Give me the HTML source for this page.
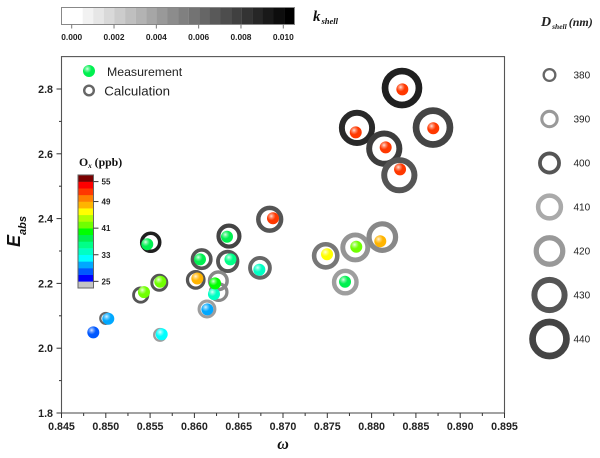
<!DOCTYPE html>
<html lang="en">
<head>
<meta charset="utf-8">
<title>Eabs versus omega</title>
<style>
html,body{margin:0;padding:0;background:#fff;}
svg{display:block;}
.sans{font-family:"Liberation Sans",Arial,sans-serif;}
.serif{font-family:"Liberation Serif","Times New Roman",serif;}
</style>
</head>
<body>
<svg id="chart" xmlns="http://www.w3.org/2000/svg" width="600" height="458" viewBox="0 0 600 458">
  <defs>
    <radialGradient id="sphere-shine" cx="0.36" cy="0.32" r="0.36">
      <stop offset="0" stop-color="#fff" stop-opacity="0.85"/>
      <stop offset="0.45" stop-color="#fff" stop-opacity="0.4"/>
      <stop offset="1" stop-color="#fff" stop-opacity="0"/>
    </radialGradient>
  </defs>
  <g id="k-bar"></g>
  <text class="serif" x="313" y="21" font-weight="bold" font-style="italic" font-size="15" fill="#111">k<tspan font-size="8.5" dx="1" dy="3">shell</tspan></text>
  <g id="axes"></g>
  <text class="sans" transform="translate(20,247) rotate(-90)" font-weight="bold" font-style="italic" font-size="18" fill="#111">E<tspan font-size="11" dy="6">abs</tspan></text>
  <text class="serif" x="283" y="449" text-anchor="middle" font-weight="bold" font-style="italic" font-size="16" fill="#111">ω</text>
  <g id="rings"></g>
  <g id="spheres"></g>
  <g>
    <circle cx="89" cy="71" r="6" fill="#00f050"/>
    <circle cx="89" cy="71" r="6" fill="url(#sphere-shine)"/>
    <text class="sans" x="107" y="76" font-size="12.3" fill="#222">Measurement</text>
    <circle cx="89" cy="90.5" r="4.8" fill="none" stroke="#666" stroke-width="2.4"/>
    <text class="sans" x="104.3" y="95.5" font-size="13.3" fill="#222">Calculation</text>
  </g>
  <text class="serif" x="79" y="166" font-weight="bold" font-size="11.8" fill="#111">O<tspan font-size="7" font-style="italic" dy="2">x</tspan><tspan dy="-2"> (ppb)</tspan></text>
  <g id="ox-bar"></g>
  <text class="serif" x="541" y="26" font-weight="bold" font-style="italic" font-size="14" fill="#222">D<tspan font-size="7.5" dx="1" dy="3">shell</tspan><tspan font-size="12" dx="2" dy="-3">(nm)</tspan></text>
  <g id="d-legend"></g>
</svg>
<script>
// Measurement series
const measOmega = [0.88347,0.88696,0.87821,0.88159,0.88321,0.86887,0.86368,0.86407,0.86733,0.87497,0.87827,0.88098,0.87700,0.85468,0.85615,0.85431,0.85028,0.84859,0.85631,0.86146,0.86221,0.86233,0.86033,0.86063];
const measEabs = [2.799,2.679,2.666,2.620,2.552,2.401,2.344,2.274,2.242,2.290,2.313,2.330,2.205,2.321,2.205,2.173,2.091,2.049,2.043,2.120,2.167,2.200,2.215,2.274];
const measOx = [52,52,52,52,52,52,38,36,34,46,42,48,38,38,41,42,30,27,32,30,34,40,48,38];
// Calculation series (the 18th measurement has no ring, so it is skipped)
const calcOmega = [0.88343,0.88693,0.87835,0.88143,0.88313,0.86850,0.86390,0.86376,0.86740,0.87482,0.87816,0.88121,0.87703,0.85507,0.85604,0.85394,0.84999,0.85612,0.86142,0.86274,0.86270,0.86015,0.86082];
const calcEabs = [2.803,2.681,2.680,2.616,2.534,2.398,2.346,2.268,2.248,2.285,2.311,2.343,2.204,2.327,2.202,2.164,2.092,2.041,2.121,2.173,2.208,2.211,2.275];
const calcD = [440,440,430,430,430,410,405,401,402,411,416,420,409,397,389,387,378,380,391,393,396,393,398];
const calcK = [0.0092,0.0077,0.0088,0.0080,0.0070,0.0070,0.0077,0.0070,0.0063,0.0056,0.0044,0.0049,0.0040,0.0092,0.0070,0.0070,0.0063,0.0040,0.0040,0.0049,0.0049,0.0070,0.0070];
// Axis ticks
const xTicks = [0.845,0.850,0.855,0.860,0.865,0.870,0.875,0.880,0.885,0.890,0.895];
const yTicks = [1.8,2.0,2.2,2.4,2.6,2.8];
const yMinorTicks = [1.9,2.1,2.3,2.5,2.7];
const kTicks = [0,0.002,0.004,0.006,0.008,0.010];
const oxTicks = [25,33,41,49,55];
// Ox colour scale: one colour per 2 ppb, from below 25 up to 57
const oxColors = ['#c4c4c4','#0000ff','#0058ff','#00a8ff','#00ffff','#00ffc4','#00ff88','#00f050','#00ff00','#70ff00','#b0ff00','#ffff00','#ffb400','#ff8000','#ff3800','#ff0000','#7a0000'];
// Shell-diameter legend
const legendD = [380,390,400,410,420,430,440];
const legendK = [0.0063,0.0042,0.0070,0.0035,0.0042,0.0070,0.0077];

const NS = 'http://www.w3.org/2000/svg';
const xScale = v => 61.5 + (v - 0.845) * 8860;
const yScale = v => 413 - (v - 1.8) * 324;
const kScale = v => 71.7 + v * 21160;
const oxScale = v => 288 - (v - 23) * 3.325;
const ringRadius = d => 7 + (d - 380) * 0.222;
const kGray = k => { const g = Math.round(255 * (1 - k / 0.0105)); return 'rgb(' + g + ',' + g + ',' + g + ')'; };
const oxColor = v => oxColors[Math.max(0, Math.min(oxColors.length - 1, Math.floor((v - 23) / 2)))];

function mk(parent, tag, attrs, text) {
  const el = document.createElementNS(NS, tag);
  for (const key in attrs) el.setAttribute(key, attrs[key]);
  if (text !== undefined) el.textContent = text;
  parent.appendChild(el);
  return el;
}

// Axes frame and ticks
const axes = document.getElementById('axes');
const frame = mk(axes, 'rect', {x: xScale(0.845), y: yScale(2.9), width: xScale(0.895) - xScale(0.845), height: yScale(1.8) - yScale(2.9), fill: 'none', stroke: '#555', 'stroke-width': 1.1});


xTicks.forEach((t, i) => {
  const tick = mk(axes, 'line', {x1: xScale(t), x2: xScale(t), y1: 413, y2: 418, stroke: '#333', 'stroke-width': 1});
  
  
  const label = mk(axes, 'text', {x: xScale(t), y: 430, 'text-anchor': 'middle', 'font-size': 10.7, 'font-weight': 'bold', class: 'sans', fill: '#222'}, t.toFixed(3));
  
  
  if (i < xTicks.length - 1) {
    const mid = (t + xTicks[i + 1]) / 2;
    const minor = mk(axes, 'line', {x1: xScale(mid), x2: xScale(mid), y1: 413, y2: 416, stroke: '#333', 'stroke-width': 1});
    
    
  }
});
yTicks.forEach(t => {
  const tick = mk(axes, 'line', {x1: 56.5, x2: 61.5, y1: yScale(t), y2: yScale(t), stroke: '#333', 'stroke-width': 1});
  
  
  const label = mk(axes, 'text', {x: 53, y: yScale(t) + 4, 'text-anchor': 'end', 'font-size': 10.7, 'font-weight': 'bold', class: 'sans', fill: '#222'}, t.toFixed(1));
  
  
});
yMinorTicks.forEach(t => {
  const minor = mk(axes, 'line', {x1: 59, x2: 61.5, y1: yScale(t), y2: yScale(t), stroke: '#333', 'stroke-width': 1});
  
  
});

// Calculation rings
const rings = document.getElementById('rings');
calcOmega.forEach((w, i) => {
  const rOuter = ringRadius(calcD[i]);
  const sw = rOuter * 0.33;
  const ring = mk(rings, 'circle', {cx: xScale(w), cy: yScale(calcEabs[i]), r: rOuter - sw / 2, fill: 'none', stroke: kGray(calcK[i]), 'stroke-width': sw});
  
  
});

// Measurement spheres
const spheres = document.getElementById('spheres');
measOmega.forEach((w, i) => {
  const dot = mk(spheres, 'circle', {cx: xScale(w), cy: yScale(measEabs[i]), r: 6, fill: oxColor(measOx[i])});
  
  
  const shine = mk(spheres, 'circle', {cx: xScale(w), cy: yScale(measEabs[i]), r: 6, fill: 'url(#sphere-shine)'});
  
  
});

// kshell colour bar
const kBar = document.getElementById('k-bar');
for (let i = 0; i < 22; i++) {
  const g = i < 2 ? 255 : Math.round(255 * (1 - (i - 1) / 20));
  const swatch = mk(kBar, 'rect', {x: 61.5 + i * 10.6, y: 7.5, width: 10.7, height: 17, fill: 'rgb(' + g + ',' + g + ',' + g + ')'});
  
  
}
const kBorder = mk(kBar, 'rect', {x: 61.5, y: 7.5, width: 233, height: 17, fill: 'none', stroke: '#888', 'stroke-width': 1});


kTicks.forEach(t => {
  const tick = mk(kBar, 'line', {x1: kScale(t), x2: kScale(t), y1: 24.5, y2: 28.5, stroke: '#777', 'stroke-width': 1});
  
  
  const label = mk(kBar, 'text', {x: kScale(t), y: 40, 'text-anchor': 'middle', 'font-size': 8.4, 'font-weight': 'bold', class: 'sans', fill: '#222'}, t.toFixed(3));
  
  
});

// Ox colour bar
const oxBar = document.getElementById('ox-bar');
oxColors.forEach((c, i) => {
  const level = 23 + i * 2;
  const swatch = mk(oxBar, 'rect', {x: 78, y: oxScale(level + 2), width: 15.5, height: 6.9, fill: c});
  
  
});
const oxBorder = mk(oxBar, 'rect', {x: 78, y: oxScale(57), width: 15.5, height: oxScale(23) - oxScale(57), fill: 'none', stroke: '#666', 'stroke-width': 1});


oxTicks.forEach(t => {
  const tick = mk(oxBar, 'line', {x1: 93.5, x2: 98.5, y1: oxScale(t), y2: oxScale(t), stroke: '#333', 'stroke-width': 1});
  
  
  const label = mk(oxBar, 'text', {x: 101.5, y: oxScale(t) + 3, 'font-size': 8, 'font-weight': 'bold', class: 'sans', fill: '#222'}, String(t));
  
  
});

// Shell-diameter legend
const dLegend = document.getElementById('d-legend');
legendD.forEach((d, i) => {
  const rOuter = ringRadius(d);
  const sw = rOuter * 0.33;
  const cy = 75 + i * 44;
  const ring = mk(dLegend, 'circle', {cx: 549.5, cy: cy, r: rOuter - sw / 2, fill: 'none', stroke: kGray(legendK[i]), 'stroke-width': sw});
  
  
  const label = mk(dLegend, 'text', {x: 573.5, y: cy + 3.7, 'font-size': 10, class: 'sans', fill: '#222'}, String(d));
  
  
});
</script>
</body>
</html>
